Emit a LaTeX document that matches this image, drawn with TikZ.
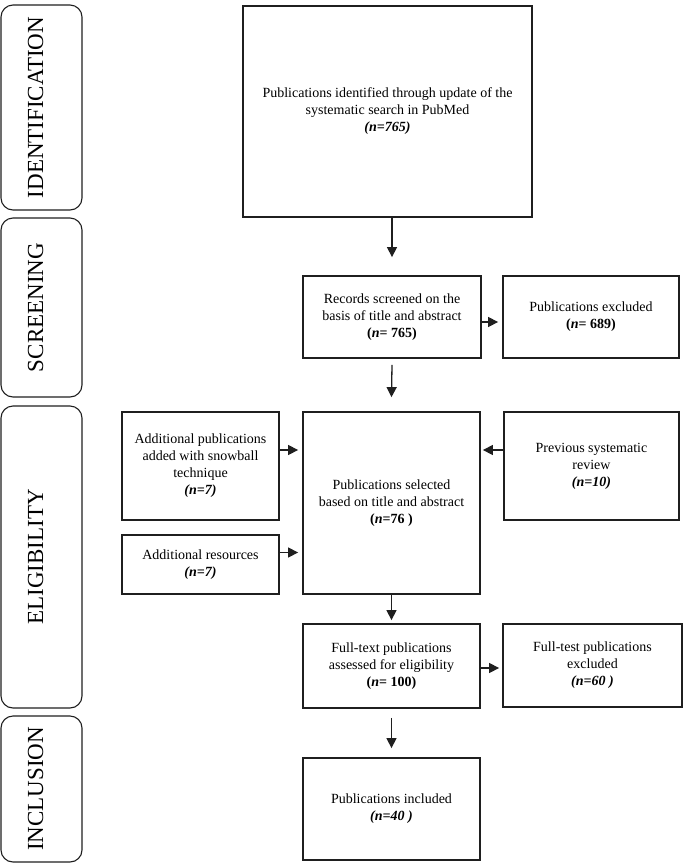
\documentclass[tikz,border=0pt]{standalone}
\usepackage{fontspec}
\setmainfont{Liberation Serif}
\usetikzlibrary{arrows.meta}

\begin{document}
\begin{tikzpicture}[x=1pt,y=-1pt,
    box/.style={draw=black!88, line width=1.8pt, align=center, inner sep=2pt,
        font=\fontsize{14}{17}\selectfont},
    phase/.style={draw=black!88, line width=1.1pt, rounded corners=12pt, rotate=90,
        minimum height=81pt, inner sep=0pt, text depth=12pt,
        font=\fontsize{23}{23}\selectfont},
    arr/.style={draw=black!88, line width=1.3pt, -{Triangle[length=10pt,width=10pt]}}]
    \useasboundingbox (0,0) rectangle (685,863);

    \node[phase, minimum width=205pt] (pid) at (41.5,107.5) {IDENTIFICATION};
    \node[phase, minimum width=179pt] (pscr) at (41.5,307.5) {SCREENING};
    \node[phase, minimum width=302pt] (pelig) at (41.5,557) {ELIGIBILITY};
    \node[phase, minimum width=146pt] (pincl) at (41.5,789) {INCLUSION};

    \node[box, minimum width=289pt, minimum height=211pt] (ident) at (387.5,111.5)
        {Publications identified through update of the\\systematic search in PubMed\\\textbf{\textit{(n=765)}}};
    \node[box, minimum width=178pt, minimum height=82pt] (screen) at (392,317)
        {Records screened on the\\basis of title and abstract\\\textbf{(\textit{n}= 765)}};
    \node[box, minimum width=176pt, minimum height=82pt] (excla) at (591,317)
        {Publications excluded\\\textbf{(\textit{n}= 689)}};
    \node[box, minimum width=157pt, minimum height=108pt] (snow) at (200.5,466)
        {Additional publications\\added with snowball\\technique\\\textbf{\textit{(n=7)}}};
    \node[box, minimum width=177pt, minimum height=182pt] (select) at (391.5,503)
        {Publications selected\\based on title and abstract\\\textbf{(\textit{n}=76 )}};
    \node[box, minimum width=175pt, minimum height=108pt] (prev) at (591.5,466)
        {Previous systematic\\review\\\textbf{\textit{(n=10)}}};
    \node[box, minimum width=157pt, minimum height=59pt] (addres) at (200.5,564.5)
        {Additional resources\\\textbf{\textit{(n=7)}}};
    \node[box, minimum width=177pt, minimum height=84pt] (full) at (391.5,666)
        {Full-text publications\\assessed for eligibility\\\textbf{(\textit{n}= 100)}};
    \node[box, minimum width=179pt, minimum height=83pt] (exclb) at (592.5,665.5)
        {Full-test publications\\excluded\\\textbf{\textit{(n=60 )}}};
    \node[box, minimum width=177pt, minimum height=102pt] (incl) at (391.5,809)
        {Publications included\\\textbf{\textit{(n=40 )}}};

    \draw[arr] (ident.south -| screen.north) -- ([yshift=18pt]screen.north);
    \draw[arr, shorten >=4pt] ([yshift=-5pt]screen.east) -- ([yshift=-5pt]screen.east -| excla.west);
    \draw[arr] ([yshift=-6pt]screen.south) -- ([yshift=14pt]select.north);
    \draw[arr, shorten >=4pt] ([yshift=16pt]snow.east) -- ([yshift=16pt]snow.east -| select.west);
    \draw[arr, shorten >=2pt] ([yshift=16pt]prev.west) -- ([yshift=16pt]prev.west -| select.east);
    \draw[arr, shorten >=4pt] ([yshift=12pt]addres.east) -- ([yshift=12pt]addres.east -| select.west);
    \draw[arr] (select.south) -- ([yshift=3pt]full.north);
    \draw[arr, shorten >=3pt] ([yshift=-2pt]full.east) -- ([yshift=-2pt]full.east -| exclb.west);
    \draw[arr] ([yshift=-9pt]full.south) -- ([yshift=9pt]incl.north);
\end{tikzpicture}
\end{document}
